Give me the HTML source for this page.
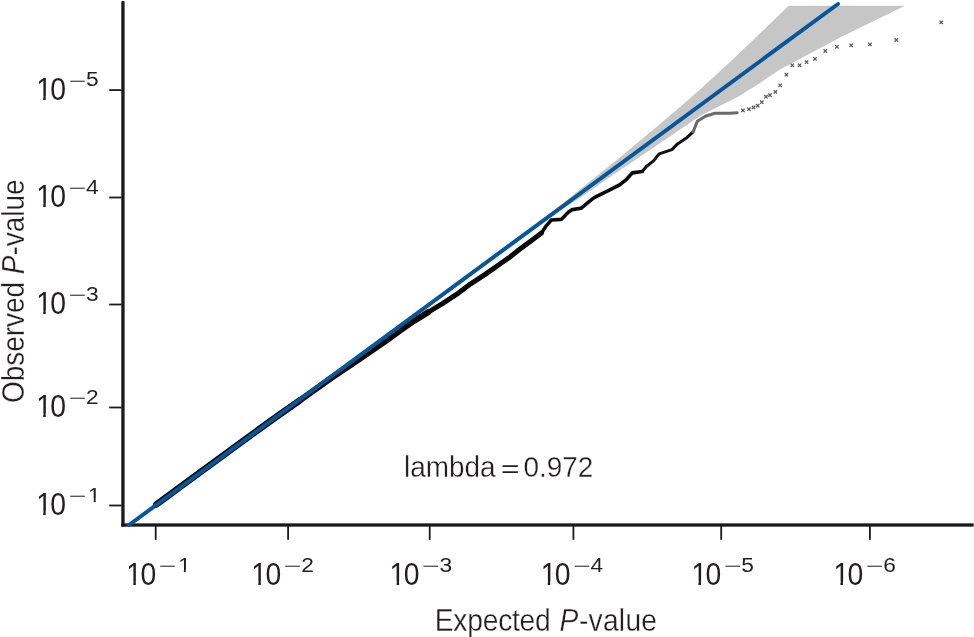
<!DOCTYPE html>
<html><head><meta charset="utf-8"><title>QQ plot</title>
<style>
html,body{margin:0;padding:0;background:#fff;}
body{width:974px;height:637px;overflow:hidden;position:relative;font-family:"Liberation Sans",sans-serif;}
svg{position:absolute;left:0;top:0;display:block}
text{font-family:"Liberation Sans",sans-serif;fill:#231f20;}
</style></head><body>
<svg width="974" height="637" viewBox="0 0 974 637">
<rect width="974" height="637" fill="#fff"/>
<polygon points="505.0,248.7 520.0,237.2 560.0,205.8 580.0,189.4 620.0,157.2 647.8,134.3 675.0,111.3 700.0,89.4 730.0,61.9 753.7,39.5 788.6,5.7 905.0,5.7 840.0,37.6 780.0,69.6 760.0,82.9 737.7,97.0 720.0,105.7 700.0,115.9 657.7,144.8 620.0,170.2 580.0,197.8 560.0,210.8 520.0,238.2 505.0,248.7" fill="#c6c6c6"/>
<polyline fill="none" stroke="#0a0a0a" stroke-width="6.6" stroke-linejoin="round" stroke-linecap="round" points="156.5,504.4 200.0,472.4 250.0,435.8 280.0,414.2 300.0,400.2"/>
<polyline fill="none" stroke="#0a0a0a" stroke-width="6.2" stroke-linejoin="round" stroke-linecap="round" points="300.0,400.2 332.4,377.3 360.7,358.3 388.9,338.6 400.0,330.6 414.1,320.8 428.3,312.1"/>
<polyline fill="none" stroke="#0a0a0a" stroke-width="5" stroke-linejoin="round" stroke-linecap="round" points="428.3,312.1 442.4,303.6 456.5,294.4 470.7,283.8 484.8,274.6 498.9,264.7 510.0,257.0 519.3,249.5 531.6,240.4 541.5,233.0"/>
<polyline fill="none" stroke="#0a0a0a" stroke-width="3.6" stroke-linejoin="round" stroke-linecap="round" points="541.5,233.0 546.4,225.6 551.3,220.0 561.2,219.4 568.6,212.0 572.3,209.6 580.9,208.3 590.0,200.9 594.1,197.6 608.3,190.6 619.6,184.9 626.6,179.3 632.3,172.9 642.2,171.5"/>
<polyline fill="none" stroke="#111" stroke-width="3" stroke-linejoin="round" stroke-linecap="round" points="642.2,171.5 646.4,166.5 653.5,160.9 659.2,153.8 671.9,149.6 677.5,143.9 686.0,138.3 693.1,131.9"/>
<polyline fill="none" stroke="#6a6a6a" stroke-width="3" stroke-linejoin="round" stroke-linecap="round" points="693.1,131.9 697.3,121.3 705.4,116.2 714.8,113.3 730.0,113.3 737.1,112.7"/>
<g stroke="#5c5c5c" stroke-width="1.25" fill="none">
<path d="M741.3 108.7l3.4 3.4m0 -3.4l-3.4 3.4"/>
<path d="M747.2 107.5l3.4 3.4m0 -3.4l-3.4 3.4"/>
<path d="M751.9 105.7l3.4 3.4m0 -3.4l-3.4 3.4"/>
<path d="M756.0 104.0l3.4 3.4m0 -3.4l-3.4 3.4"/>
<path d="M939.6 20.7l3.4 3.4m0 -3.4l-3.4 3.4"/>
<path d="M894.6 38.3l3.4 3.4m0 -3.4l-3.4 3.4"/>
<path d="M868.2 42.7l3.4 3.4m0 -3.4l-3.4 3.4"/>
<path d="M849.5 43.6l3.4 3.4m0 -3.4l-3.4 3.4"/>
<path d="M835.2 45.1l3.4 3.4m0 -3.4l-3.4 3.4"/>
<path d="M823.6 49.3l3.4 3.4m0 -3.4l-3.4 3.4"/>
<path d="M813.3 57.2l3.4 3.4m0 -3.4l-3.4 3.4"/>
<path d="M804.9 60.5l3.4 3.4m0 -3.4l-3.4 3.4"/>
<path d="M797.9 63.6l3.4 3.4m0 -3.4l-3.4 3.4"/>
<path d="M790.6 63.6l3.4 3.4m0 -3.4l-3.4 3.4"/>
<path d="M784.7 73.0l3.4 3.4m0 -3.4l-3.4 3.4"/>
<path d="M778.5 83.6l3.4 3.4m0 -3.4l-3.4 3.4"/>
<path d="M773.7 90.2l3.4 3.4m0 -3.4l-3.4 3.4"/>
<path d="M768.2 93.5l3.4 3.4m0 -3.4l-3.4 3.4"/>
<path d="M764.3 95.0l3.4 3.4m0 -3.4l-3.4 3.4"/>
<path d="M760.1 100.5l3.4 3.4m0 -3.4l-3.4 3.4"/>
</g>
<rect x="121.3" y="1" width="3.3" height="525.7" rx="1" fill="#1a1a1a"/>
<rect x="121.3" y="523.35" width="852.4" height="3.3" fill="#1a1a1a"/>
<g fill="#1a1a1a">
<rect x="109.2" y="89.2" width="12.5" height="1.8"/>
<rect x="109.2" y="196.6" width="12.5" height="1.8"/>
<rect x="109.2" y="303.6" width="12.5" height="1.8"/>
<rect x="109.2" y="406.6" width="12.5" height="1.8"/>
<rect x="109.2" y="504.6" width="12.5" height="1.8"/>
<rect x="154.8" y="526" width="1.8" height="13.8"/>
<rect x="287.2" y="526" width="1.8" height="13.8"/>
<rect x="428.8" y="526" width="1.8" height="13.8"/>
<rect x="572.5" y="526" width="1.8" height="13.8"/>
<rect x="720.3" y="526" width="1.8" height="13.8"/>
<rect x="869.0" y="526" width="1.8" height="13.8"/>
</g>
<line x1="129" y1="525" x2="838" y2="4" stroke="#05569a" stroke-width="4" stroke-linecap="round"/>
<text transform="translate(36.2,99.5) scale(0.90,1)" font-size="31.5">1<tspan dx="-1.8">0</tspan></text>
<rect x="36.70" y="95.90" width="6.52" height="4.6" fill="#fff"/><rect x="45.73" y="95.90" width="6.07" height="4.6" fill="#fff"/>
<text transform="translate(68.7,85.7) scale(1.5,0.75)" font-size="20" fill="#8c8c8c">−</text>
<text transform="translate(86.1,86.4) scale(1.12,1)" font-size="20.3">5</text>
<text transform="translate(36.2,206.9) scale(0.90,1)" font-size="31.5">1<tspan dx="-1.8">0</tspan></text>
<rect x="36.70" y="203.30" width="6.52" height="4.6" fill="#fff"/><rect x="45.73" y="203.30" width="6.07" height="4.6" fill="#fff"/>
<text transform="translate(68.7,193.1) scale(1.5,0.75)" font-size="20" fill="#8c8c8c">−</text>
<text transform="translate(86.1,193.8) scale(1.12,1)" font-size="20.3">4</text>
<text transform="translate(36.2,313.9) scale(0.90,1)" font-size="31.5">1<tspan dx="-1.8">0</tspan></text>
<rect x="36.70" y="310.30" width="6.52" height="4.6" fill="#fff"/><rect x="45.73" y="310.30" width="6.07" height="4.6" fill="#fff"/>
<text transform="translate(68.7,300.1) scale(1.5,0.75)" font-size="20" fill="#8c8c8c">−</text>
<text transform="translate(86.1,300.8) scale(1.12,1)" font-size="20.3">3</text>
<text transform="translate(36.2,416.9) scale(0.90,1)" font-size="31.5">1<tspan dx="-1.8">0</tspan></text>
<rect x="36.70" y="413.30" width="6.52" height="4.6" fill="#fff"/><rect x="45.73" y="413.30" width="6.07" height="4.6" fill="#fff"/>
<text transform="translate(68.7,403.1) scale(1.5,0.75)" font-size="20" fill="#8c8c8c">−</text>
<text transform="translate(86.1,403.8) scale(1.12,1)" font-size="20.3">2</text>
<text transform="translate(36.2,514.9) scale(0.90,1)" font-size="31.5">1<tspan dx="-1.8">0</tspan></text>
<rect x="36.70" y="511.30" width="6.52" height="4.6" fill="#fff"/><rect x="45.73" y="511.30" width="6.07" height="4.6" fill="#fff"/>
<text transform="translate(68.7,501.1) scale(1.5,0.75)" font-size="20" fill="#8c8c8c">−</text>
<text transform="translate(88.1,501.8) scale(1.12,1)" font-size="20.3">1</text>
<rect x="87.80" y="498.70" width="5.9" height="4.2" fill="#fff"/><rect x="95.70" y="498.70" width="5.6" height="4.2" fill="#fff"/>
<text transform="translate(126.3,585.2) scale(0.90,1)" font-size="31.5">1<tspan dx="-1.8">0</tspan></text>
<rect x="126.80" y="581.60" width="6.52" height="4.6" fill="#fff"/><rect x="135.83" y="581.60" width="6.07" height="4.6" fill="#fff"/>
<text transform="translate(158.8,571.4) scale(1.5,0.75)" font-size="20" fill="#8c8c8c">−</text>
<text transform="translate(178.2,572.1) scale(1.12,1)" font-size="20.3">1</text>
<rect x="177.90" y="569.00" width="5.9" height="4.2" fill="#fff"/><rect x="185.80" y="569.00" width="5.6" height="4.2" fill="#fff"/>
<text transform="translate(251.3,585.2) scale(0.90,1)" font-size="31.5">1<tspan dx="-1.8">0</tspan></text>
<rect x="251.80" y="581.60" width="6.52" height="4.6" fill="#fff"/><rect x="260.83" y="581.60" width="6.07" height="4.6" fill="#fff"/>
<text transform="translate(283.8,571.4) scale(1.5,0.75)" font-size="20" fill="#8c8c8c">−</text>
<text transform="translate(301.2,572.1) scale(1.12,1)" font-size="20.3">2</text>
<text transform="translate(389.6,585.2) scale(0.90,1)" font-size="31.5">1<tspan dx="-1.8">0</tspan></text>
<rect x="390.10" y="581.60" width="6.52" height="4.6" fill="#fff"/><rect x="399.13" y="581.60" width="6.07" height="4.6" fill="#fff"/>
<text transform="translate(422.1,571.4) scale(1.5,0.75)" font-size="20" fill="#8c8c8c">−</text>
<text transform="translate(439.5,572.1) scale(1.12,1)" font-size="20.3">3</text>
<text transform="translate(540.7,585.2) scale(0.90,1)" font-size="31.5">1<tspan dx="-1.8">0</tspan></text>
<rect x="541.20" y="581.60" width="6.52" height="4.6" fill="#fff"/><rect x="550.23" y="581.60" width="6.07" height="4.6" fill="#fff"/>
<text transform="translate(573.2,571.4) scale(1.5,0.75)" font-size="20" fill="#8c8c8c">−</text>
<text transform="translate(590.6,572.1) scale(1.12,1)" font-size="20.3">4</text>
<text transform="translate(691.4,585.2) scale(0.90,1)" font-size="31.5">1<tspan dx="-1.8">0</tspan></text>
<rect x="691.90" y="581.60" width="6.52" height="4.6" fill="#fff"/><rect x="700.93" y="581.60" width="6.07" height="4.6" fill="#fff"/>
<text transform="translate(723.9,571.4) scale(1.5,0.75)" font-size="20" fill="#8c8c8c">−</text>
<text transform="translate(741.3,572.1) scale(1.12,1)" font-size="20.3">5</text>
<text transform="translate(833.4,585.2) scale(0.90,1)" font-size="31.5">1<tspan dx="-1.8">0</tspan></text>
<rect x="833.90" y="581.60" width="6.52" height="4.6" fill="#fff"/><rect x="842.93" y="581.60" width="6.07" height="4.6" fill="#fff"/>
<text transform="translate(865.9,571.4) scale(1.5,0.75)" font-size="20" fill="#8c8c8c">−</text>
<text transform="translate(883.3,572.1) scale(1.12,1)" font-size="20.3">6</text>
<text id="xtitle" transform="translate(434.8,631.4) scale(0.895,1)" font-size="31.5" stroke="#fff" stroke-width="0.3"><tspan letter-spacing="-0.25">Expected</tspan> <tspan font-style="italic" dx="1.4">P</tspan><tspan dx="0.6" letter-spacing="0.3">-value</tspan></text>
<text id="ytitle" transform="translate(23.6,403) rotate(-90) scale(0.887,1)" font-size="31.5" stroke="#fff" stroke-width="0.3">Observed <tspan font-style="italic">P</tspan>-value</text>
<text id="lam" transform="translate(404,476.8) scale(0.947,1)" font-size="29.5" stroke="#fff" stroke-width="0.3">lambda</text>
<text transform="translate(500.9,477.2) scale(1.07,0.8)" font-size="29.5">=</text>
<text transform="translate(523.4,476.8) scale(0.947,1)" font-size="29.5" stroke="#fff" stroke-width="0.3">0.972</text>
</svg>
</body></html>
